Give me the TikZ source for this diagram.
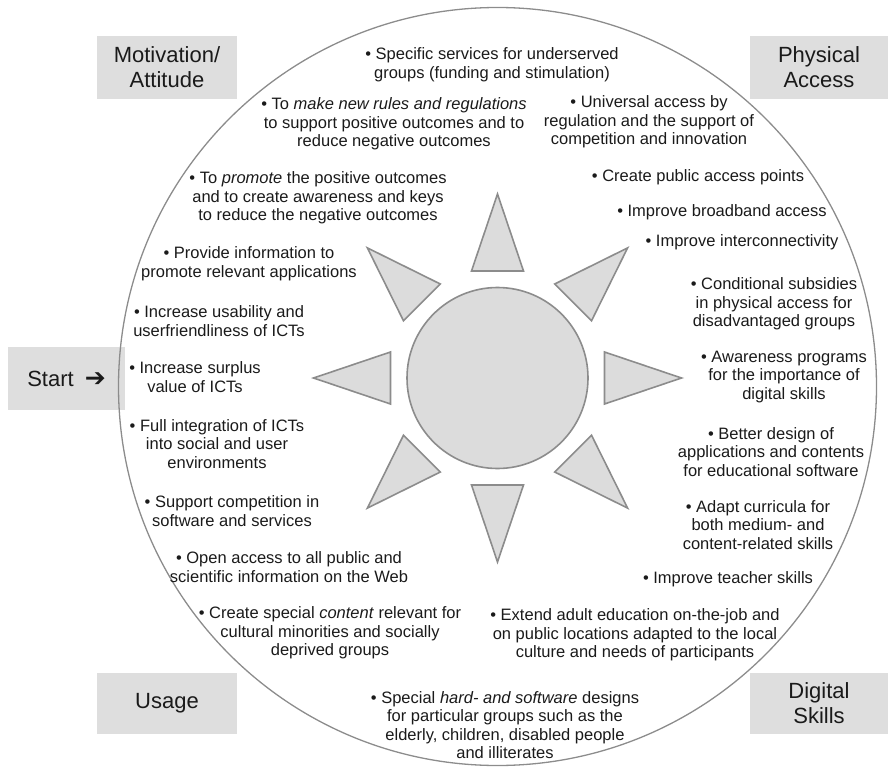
\documentclass[tikz,border=0pt]{standalone}
\usepackage{fontspec}
\setmainfont{Liberation Sans}
\newfontfamily\symfont{DejaVu Sans}
\definecolor{raygray}{HTML}{DCDCDC}
\definecolor{edgegray}{HTML}{8C8C8C}
\definecolor{boxgray}{HTML}{DEDEDE}
\definecolor{ink}{HTML}{1A1A1A}
\tikzset{
  ray/.style={draw=edgegray, fill=raygray, line width=1.6pt, line join=miter},
  item/.style={align=center, inner sep=0pt, text=ink, font=\fontsize{16.5pt}{18.6pt}\selectfont},
  cornerbox/.style={fill=boxgray, draw=none, inner sep=0pt, align=center, text=ink,
     font=\fontsize{22pt}{25pt}\selectfont},
}
\begin{document}
\begin{tikzpicture}[x=1pt,y=-1pt]
\useasboundingbox (0,0) rectangle (888,767);
% corner boxes
\node[cornerbox, minimum width=140pt, minimum height=63pt] (mot) at (167,67.5) {Motivation/\\Attitude};
\node[cornerbox, minimum width=138pt, minimum height=63pt] (phys) at (819,67.5) {Physical\\Access};
\node[cornerbox, minimum width=117pt, minimum height=63pt] (start) at (66.5,378.5) {Start\hspace{0.5em}{\symfont\bfseries\fontsize{25pt}{25pt}\selectfont ➔}};
\node[cornerbox, minimum width=140pt, minimum height=61pt] (usage) at (167,703.5) {Usage};
\node[cornerbox, minimum width=138pt, minimum height=61pt] (digital) at (819,703.5) {Digital\\Skills};
% outer circle
\node[circle, draw=edgegray, line width=1.3pt, minimum size=758pt, inner sep=0pt] (ring) at (497.5,386.5) {};
% sun
\node[circle, ray, minimum size=181pt, inner sep=0pt] (sun) at (497.5,378) {};
\begin{scope}[shift={(sun.center)}]
\foreach \a in {0,45,...,315}{
  \path[ray, rotate=\a] (107pt,26pt) -- (184pt,0pt) -- (107pt,-26pt) -- cycle;
}
\end{scope}
% left / top items
\node[item] (sp) at (492,65) {• Specific services for underserved\\groups (funding and stimulation)};
\node[item] (rules) at (394,124) {• To \textit{make new rules and regulations}\\to support positive outcomes and to\\reduce negative outcomes};
\node[item] (prom) at (318,198) {• To \textit{promote} the positive outcomes\\and to create awareness and keys\\to reduce the negative outcomes};
\node[item] (prov) at (249,264) {• Provide information to\\promote relevant applications};
\node[item] (usab) at (219,321) {• Increase usability and\\userfriendliness of ICTs};
\node[item] (surp) at (195,377) {• Increase surplus\\value of ICTs};
\node[item] (full) at (217,444) {• Full integration of ICTs\\into social and user\\environments};
\node[item] (comp) at (232,511) {• Support competition in\\software and services};
\node[item] (open) at (289,567) {• Open access to all public and\\scientific information on the Web};
\node[item] (cont) at (330,633) {• Create special \textit{content} relevant for\\cultural minorities and socially\\deprived groups};
\node[item] (hard) at (505,725) {• Special \textit{hard- and software} designs\\for particular groups such as the\\elderly, children, disabled people\\and illiterates};
% right items
\node[item] (univ) at (649,122) {• Universal access by\\regulation and the support of\\competition and innovation};
\node[item] (cpap) at (698,177) {• Create public access points};
\node[item] (broad) at (722,212) {• Improve broadband access};
\node[item] (inter) at (742,242) {• Improve interconnectivity};
\node[item] (cond) at (774,304) {• Conditional subsidies\\in physical access for\\disadvantaged groups};
\node[item] (aware) at (784,377) {• Awareness programs\\for the importance of\\digital skills};
\node[item] (better) at (771,452) {• Better design of\\applications and contents\\for educational software};
\node[item] (adapt) at (758,525) {• Adapt curricula for\\both medium- and\\content-related skills};
\node[item] (teach) at (728,579) {• Improve teacher skills};
\node[item] (extend) at (635,635) {• Extend adult education on-the-job and\\on public locations adapted to the local\\culture and needs of participants};
\end{tikzpicture}
\end{document}
